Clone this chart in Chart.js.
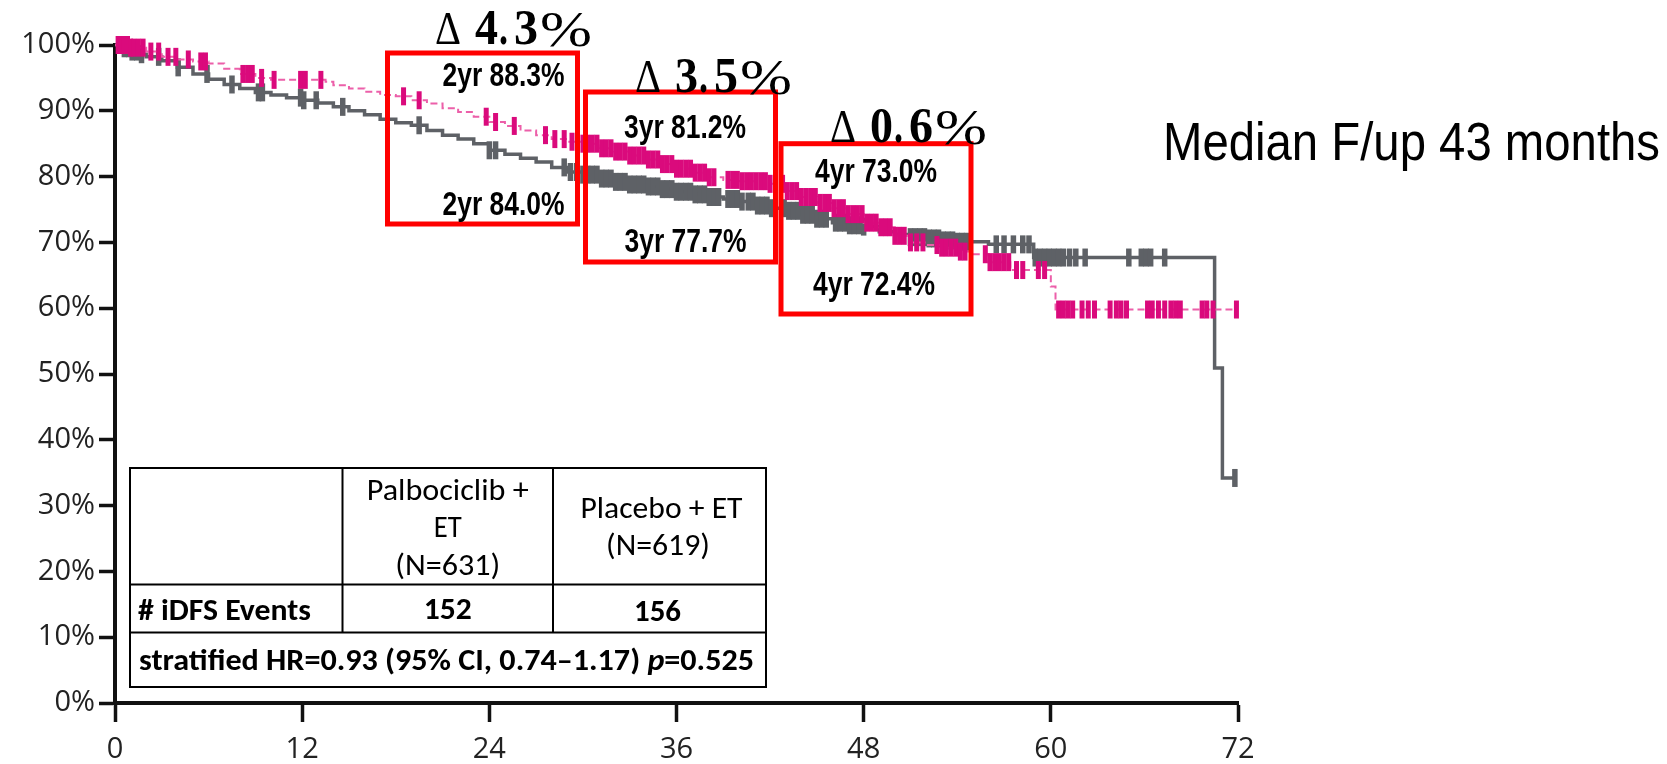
<!DOCTYPE html>
<html>
<head>
<meta charset="utf-8">
<script src="https://cdn.jsdelivr.net/npm/chart.js@4.4.0/dist/chart.umd.min.js"></script>
<style>
  html, body { margin: 0; padding: 0; background: #ffffff; }
  canvas { display: block; }
</style>
</head>
<body>
<canvas id="km" width="1667" height="764"></canvas>
<script>
// ---- Axis ticks ----
const monthTicks = [0, 12, 24, 36, 48, 60, 72];
const pctTicks = [0, 10, 20, 30, 40, 50, 60, 70, 80, 90, 100];

// ---- Kaplan-Meier steps: time (months) and iDFS (%) after each drop ----
const palboTimes = [0, 1, 2, 3, 4, 5, 6, 7, 8, 9, 10, 13.5, 14, 15, 16, 17, 18, 19, 20, 21, 22, 23, 24,
  25, 26, 27, 28, 29, 30, 31, 32, 33, 34, 35, 36, 37, 38, 39, 40, 42, 43, 44, 45, 46, 47, 48,
  49, 50, 51, 52, 53, 54, 55, 56, 57.4, 60.0, 60.3, 72];
const palboSurv = [100, 99.6, 99.0, 98.2, 97.8, 97.5, 97.2, 96.4, 95.6, 95.0, 94.7, 94.4, 93.9, 93.4, 92.9, 92.4, 92.2, 91.6, 91.1, 90.4, 89.8, 89.1, 88.3,
  87.7, 87.0, 86.3, 85.7, 85.3, 85.0, 84.3, 83.8, 83.2, 82.6, 81.9, 81.2, 80.6, 79.9, 79.5, 79.3, 78.9, 77.8, 76.9, 76.0, 75.2, 74.3, 73.0,
  72.3, 71.0, 70.0, 69.6, 69.2, 68.6, 68.2, 67.0, 65.8, 63.3, 59.8, 59.8];

const placeboTimes = [0, 0.5, 1, 1.5, 2, 3, 4, 5, 6, 7, 8, 9, 10, 11, 12, 13, 14, 15, 16, 17, 18, 19, 20, 21, 22, 23, 24,
  25, 26, 27, 28, 29, 30, 31, 32, 33, 34, 35, 36, 37, 38, 39, 40, 41, 42, 43, 44, 45, 46, 47, 48,
  49, 50, 51, 52, 53, 54, 56, 58.9, 70.5, 71.0, 71.8];
const placeboSurv = [100, 99.5, 99.0, 98.6, 98.2, 97.6, 96.6, 95.6, 94.8, 94.0, 93.4, 92.8, 92.4, 92.0, 91.6, 91.2, 90.6, 90.0, 89.4, 88.7, 88.2, 87.8, 87.0, 86.3, 85.7, 85.0, 84.0,
  83.4, 82.8, 82.2, 81.4, 80.7, 80.3, 79.7, 79.2, 78.8, 78.5, 78.1, 77.7, 77.3, 76.9, 76.6, 76.2, 75.6, 75.2, 74.8, 74.2, 73.6, 73.0, 72.6, 72.4,
  71.6, 71.2, 70.8, 70.6, 70.3, 70.1, 69.7, 67.7, 50.9, 34.2, 34.2];

// ---- Censoring times (months) ----
const palboCensor = [0.2, 0.4, 0.6, 0.8, 1.0, 1.2, 1.5, 1.8, 2.3, 2.8, 3.4, 3.9, 4.7, 5.5, 5.8, 8.2, 8.5, 8.8, 9.4, 10.2,
  11.9, 12.2, 13.2, 18.5, 19.5, 23.8, 24.4, 25.6, 27.6, 28.2, 28.8, 29.3,
  30.0, 30.3, 30.6, 30.9, 31.2, 31.5, 31.8, 32.1, 32.4, 32.7, 33.0, 33.3, 33.6, 33.9, 34.2, 34.5, 34.8, 35.1, 35.4, 35.7,
  36.0, 36.3, 36.6, 36.9, 37.2, 37.5, 37.8, 38.1, 38.4,
  39.3, 39.6, 39.9, 40.2, 40.5, 40.8, 41.1, 41.4, 41.7, 42.0,
  42.8, 43.1, 43.4, 43.7, 44.0, 44.3, 44.6, 44.9, 45.2, 45.5, 45.8, 46.1,
  46.4, 46.7, 47.0, 47.3, 47.6, 47.9, 48.2, 48.5, 48.8, 49.1, 49.4, 49.7, 50.0, 50.3, 50.6,
  51.0, 51.4, 51.8, 52.7, 53.0, 53.3, 53.6, 53.9, 54.2, 54.5,
  55.8, 56.1, 56.4, 56.7, 57.0, 57.3, 57.8, 58.2, 59.2, 59.6,
  60.5, 60.8, 61.1, 61.4, 62.0, 62.4, 62.8, 63.8, 64.2, 64.5, 64.85, 66.2, 66.5, 66.9, 67.3, 67.7, 68.0, 68.3,
  69.7, 70.0, 70.4, 71.9];
const placeboCensor = [0.3, 0.6, 0.9, 1.1, 1.4, 1.7, 2.8, 4.05, 5.9, 7.5, 9.2, 9.45, 11.9, 12.1, 12.9, 14.6, 19.5,
  24.0, 24.4, 28.8, 29.2, 29.6,
  30.0, 30.3, 30.6, 30.9, 31.2, 31.5, 31.8, 32.1, 32.4, 32.7, 33.0, 33.3, 33.6, 33.9, 34.2, 34.5, 34.8, 35.1, 35.4, 35.7,
  36.0, 36.3, 36.6, 36.9, 37.2, 37.5, 37.8, 38.1, 38.4, 38.7,
  39.3, 39.6, 39.9, 40.2, 40.6, 40.9, 41.2, 41.5, 41.8, 42.1,
  42.9, 43.2, 43.5, 43.8, 44.1, 44.4, 44.7, 45.0, 45.3, 45.6,
  46.2, 46.5, 46.8, 47.1, 47.4, 47.7, 48.0,
  51.0, 51.3, 51.6, 51.9, 52.2, 52.5, 52.8, 53.1, 53.4, 53.7, 54.0, 54.3, 54.6,
  56.5, 57.0, 57.6, 58.2, 58.6,
  59.0, 59.3, 59.6, 59.9, 60.2, 60.5, 60.8, 61.2, 61.6, 62.2, 65.0, 65.8, 66.1, 66.4, 67.3, 71.8];

// ---- Landmarks and summary table ----
const landmarkMonths = [24, 36, 48];
const landmarkNames = ['2yr', '3yr', '4yr'];
const armNames = ['Palbociclib + ET', 'Placebo + ET'];
const armN = [631, 619];
const armEvents = [152, 156];
const hrSummary = ['stratified HR=0.93 (95% CI, 0.74\u20131.17) ', 'p', '=0.525'];
const followUpText = 'Median F/up 43 months';

// ---- Colours ----
const MAGENTA = '#da0a7c';
const MAGENTA_LINE = '#ec5fa9';
const GREY = '#5e6166';

// survival value in effect at time t
function stepAt(times, surv, t) {
  let v = surv[0];
  for (let i = 0; i < times.length; i++) {
    if (times[i] <= t) v = surv[i]; else break;
  }
  return v;
}
const toPoints = (times, surv) => times.map((t, i) => ({ x: t, y: surv[i] }));
const censorPoints = (cens, times, surv) => cens.map(t => ({ x: t, y: stepAt(times, surv, t) }));

// draw text squeezed/stretched horizontally into a given width
function fitRuns(c, runs, x0, baseline, width, align) {
  let total = 0;
  runs.forEach(r => { c.font = r.font; r.w = c.measureText(r.text).width; total += r.w; });
  const s = width / total;
  let start = x0;
  if (align === 'center') start = x0 - width / 2;
  c.save();
  c.translate(start, baseline);
  c.scale(s, 1);
  c.textAlign = 'left';
  c.textBaseline = 'alphabetic';
  let x = 0;
  runs.forEach(r => { c.font = r.font; c.fillText(r.text, x, 0); x += r.w; });
  c.restore();
}
function fitText(c, text, font, x, baseline, width, align) {
  fitRuns(c, [{ text, font }], x, baseline, width, align);
}

const CAL = 'Carlito, Lato, "Open Sans", sans-serif';
const NARROW = '"Liberation Sans Narrow", "Liberation Sans", Arial, sans-serif';
const SERIF = '"Liberation Serif", "DejaVu Serif", serif';

// red landmark boxes with the two arm estimates
const boxes = [
  { x0: 387.5, y0: 53, x1: 577.5, y1: 224, top: [503.5, 86], bot: [503.5, 215], delta: [435, 43.5] },
  { x0: 585.5, y0: 92, x1: 775.5, y1: 262, top: [685, 138], bot: [685.5, 252], delta: [635, 91.5] },
  { x0: 781, y0: 143.7, x1: 971, y1: 314, top: [876, 182], bot: [874, 295], delta: [830, 141.5] }
];

const overlay = {
  id: 'overlay',
  afterDraw(chart) {
    const c = chart.ctx;
    c.save();
    c.fillStyle = '#000';

    landmarkMonths.forEach((m, i) => {
      const b = boxes[i];
      const pa = stepAt(palboTimes, palboSurv, m);
      const pl = stepAt(placeboTimes, placeboSurv, m);
      c.strokeStyle = '#ff0000';
      c.lineWidth = 5;
      c.strokeRect(b.x0, b.y0, b.x1 - b.x0, b.y1 - b.y0);

      fitText(c, landmarkNames[i] + ' ' + pa.toFixed(1) + '%', 'bold 34px ' + NARROW, b.top[0], b.top[1], 122, 'center');
      fitText(c, landmarkNames[i] + ' ' + pl.toFixed(1) + '%', 'bold 34px ' + NARROW, b.bot[0], b.bot[1], 122, 'center');

      // difference label: Δ d.d%
      const parts = (pa - pl).toFixed(1).split('.');
      const x = b.delta[0], y = b.delta[1];
      fitText(c, '\u0394', '46px ' + SERIF, x, y, 26, 'left');
      fitText(c, parts[0], 'bold 50px ' + SERIF, x + 40, y, 23, 'left');
      fitText(c, '.', 'bold 50px ' + SERIF, x + 64, y, 9, 'left');
      fitText(c, parts[1], 'bold 50px ' + SERIF, x + 79, y, 24, 'left');
      fitText(c, '%', '50px ' + SERIF, x + 105, y + 2, 52, 'left');
    });

    // follow-up note
    fitText(c, followUpText, '54px ' + NARROW, 1163, 160, 497, 'left');

    // summary table
    const L = 130, R = 766, T = 468, r1 = 584.5, r2 = 632.5, B = 687, c1 = 342.5, c2 = 553;
    c.strokeStyle = '#000';
    c.lineWidth = 2;
    c.strokeRect(L, T, R - L, B - T);
    c.beginPath();
    c.moveTo(L, r1); c.lineTo(R, r1);
    c.moveTo(L, r2); c.lineTo(R, r2);
    c.moveTo(c1, T); c.lineTo(c1, r2);
    c.moveTo(c2, T); c.lineTo(c2, r2);
    c.stroke();

    const col1 = (c1 + c2) / 2, col2 = (c2 + R) / 2;
    const reg = '31px ' + CAL, bold = 'bold 31px ' + CAL;
    const palboHead = armNames[0].split(' + ');
    fitText(c, palboHead[0] + ' +', reg, col1, 500, 162, 'center');
    fitText(c, palboHead[1], reg, col1, 537, 28, 'center');
    fitText(c, '(N=' + armN[0] + ')', reg, col1, 575, 105, 'center');
    fitText(c, armNames[1], reg, col2 + 2, 518, 162, 'center');
    fitText(c, '(N=' + armN[1] + ')', reg, col2 - 1.5, 555, 104, 'center');

    fitText(c, '# iDFS Events', bold, 138, 620, 173, 'left');
    fitText(c, String(armEvents[0]), bold, col1, 619, 48, 'center');
    fitText(c, String(armEvents[1]), bold, col2 - 2, 621, 47, 'center');

    fitRuns(c, [
      { text: hrSummary[0], font: bold },
      { text: hrSummary[1], font: 'italic bold 31px ' + CAL },
      { text: hrSummary[2], font: bold }
    ], 139, 670, 615, 'left');

    c.restore();
  }
};

const tickFont = { family: '"Open Sans", "Noto Sans", sans-serif', size: 29 };

new Chart(document.getElementById('km').getContext('2d'), {
  type: 'line',
  data: {
    datasets: [
      {
        label: armNames[0] + ' censored',
        data: censorPoints(palboCensor, palboTimes, palboSurv),
        showLine: false,
        pointStyle: 'line',
        rotation: 90,
        pointRadius: 9,
        pointBorderWidth: 5,
        pointBorderColor: MAGENTA,
        pointBackgroundColor: MAGENTA,
        clip: false
      },
      {
        label: armNames[0],
        data: toPoints(palboTimes, palboSurv),
        stepped: 'before',
        borderColor: MAGENTA_LINE,
        borderWidth: 2,
        borderDash: [7, 4],
        pointRadius: 0,
        fill: false,
        clip: false
      },
      {
        label: armNames[1] + ' censored',
        data: censorPoints(placeboCensor, placeboTimes, placeboSurv),
        showLine: false,
        pointStyle: 'line',
        rotation: 90,
        pointRadius: 9,
        pointBorderWidth: 5.5,
        pointBorderColor: GREY,
        pointBackgroundColor: GREY,
        clip: false
      },
      {
        label: armNames[1],
        data: toPoints(placeboTimes, placeboSurv),
        stepped: 'before',
        borderColor: GREY,
        borderWidth: 3.5,
        pointRadius: 0,
        fill: false,
        clip: false
      }
    ]
  },
  options: {
    responsive: false,
    animation: false,
    devicePixelRatio: 1,
    events: [],
    layout: { padding: { top: 45, right: 429, bottom: 0, left: 0 } },
    plugins: { legend: { display: false }, tooltip: { enabled: false } },
    scales: {
      x: {
        type: 'linear',
        min: 0,
        max: 72,
        afterBuildTicks: s => { s.ticks = monthTicks.map(v => ({ value: v })); },
        afterFit: s => { s.height = 61; },
        ticks: { font: tickFont, color: '#222', padding: 10, maxRotation: 0, autoSkip: false },
        grid: { drawOnChartArea: false, drawTicks: true, tickLength: 19, tickWidth: 3.5, tickColor: '#111' },
        border: { display: true, color: '#111', width: 4 }
      },
      y: {
        type: 'linear',
        min: 0,
        max: 100,
        afterBuildTicks: s => { s.ticks = pctTicks.map(v => ({ value: v })); },
        afterFit: s => { s.width = 115; },
        ticks: { font: tickFont, color: '#222', padding: 4, callback: v => v + '%' },
        grid: { drawOnChartArea: false, drawTicks: true, tickLength: 16, tickWidth: 3.5, tickColor: '#111' },
        border: { display: true, color: '#111', width: 4 }
      }
    }
  },
  plugins: [overlay]
});
</script>
</body>
</html>
